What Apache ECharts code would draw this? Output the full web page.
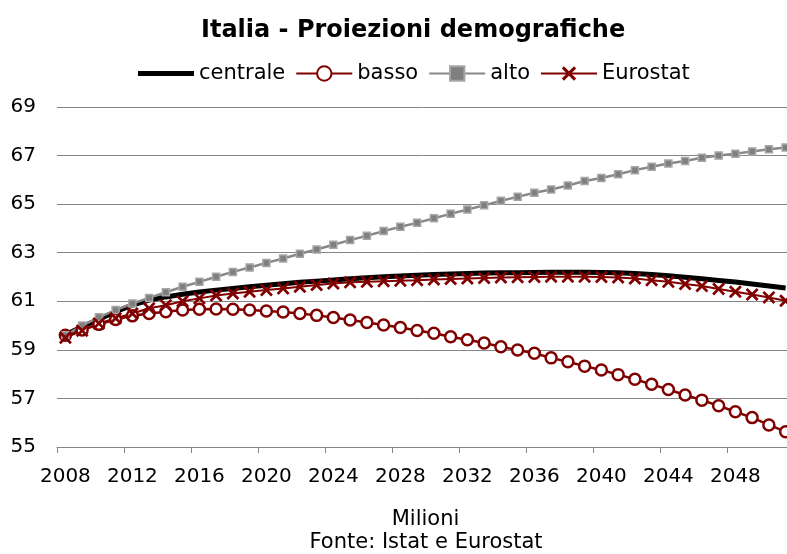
<!DOCTYPE html>
<html>
	<head>
		<meta charset="UTF-8">
		<title>Italia - Proiezioni demografiche</title>
		<style>
			body{margin:0;background:#fff;}
		</style>
	</head>
	<body>
		<div id='chart' style="width:787px;height:554px;"></div>
	</body>
	<script type="text/javascript" src="https://cdn.jsdelivr.net/npm/echarts@6.0.0/dist/echarts.min.js"></script>
	<script>
		// anni 2008-2051
		var anni=['2008','2009','2010','2011','2012','2013','2014','2015','2016','2017','2018','2019','2020','2021',
			'2022','2023','2024','2025','2026','2027','2028','2029','2030','2031','2032','2033','2034','2035',
			'2036','2037','2038','2039','2040','2041','2042','2043','2044','2045','2046','2047','2048','2049','2050','2051'];

		var centrale=[59.62,59.95,60.26,60.57,60.84,61.05,61.18,61.29,61.38,61.46,61.53,61.60,61.66,61.72,
			61.78,61.83,61.88,61.93,61.97,62.01,62.04,62.07,62.10,62.12,62.14,62.16,62.17,62.18,
			62.19,62.20,62.20,62.20,62.19,62.17,62.14,62.10,62.05,61.99,61.93,61.86,61.79,61.71,61.63,61.55];

		var basso=[59.60,59.82,60.05,60.25,60.40,60.50,60.57,60.64,60.67,60.68,60.67,60.64,60.60,60.56,
			60.50,60.42,60.33,60.23,60.13,60.02,59.92,59.80,59.68,59.54,59.42,59.28,59.13,58.99,
			58.86,58.67,58.51,58.33,58.17,57.98,57.79,57.58,57.37,57.14,56.93,56.70,56.45,56.21,55.91,55.63];

		var alto=[59.60,60.00,60.34,60.64,60.91,61.14,61.37,61.60,61.80,62.01,62.21,62.39,62.58,62.76,
			62.96,63.13,63.33,63.52,63.70,63.89,64.07,64.23,64.42,64.60,64.78,64.95,65.14,65.30,
			65.47,65.60,65.77,65.95,66.08,66.23,66.40,66.54,66.67,66.78,66.91,67.00,67.08,67.17,67.26,67.33];

		var eurostat=[59.50,59.79,60.09,60.30,60.50,60.71,60.84,61.00,61.12,61.24,61.32,61.39,61.46,61.53,
			61.60,61.67,61.73,61.78,61.80,61.83,61.85,61.87,61.90,61.92,61.94,61.96,61.98,61.99,
			62.00,62.01,62.01,62.01,62.00,61.98,61.94,61.87,61.80,61.71,61.63,61.51,61.39,61.28,61.16,61.02];

		var yTicks=[55,57,59,61,63,65,67,69];

		var font='"DejaVu Sans", Verdana, sans-serif';
		var rosso='#800000';
		var croce='path://M0,1.5 L1.5,0 L5,3.5 L8.5,0 L10,1.5 L6.5,5 L10,8.5 L8.5,10 L5,6.5 L1.5,10 L0,8.5 L3.5,5 Z';

		function grafico(id){
			var chart=echarts.init(document.getElementById(id));
			var option={
				animation:false,
				textStyle:{fontFamily:font,color:'#000'},
				title:{
					text:'Italia - Proiezioni demografiche',
					left:196,
					top:14,
					textStyle:{fontFamily:font,fontSize:24,fontWeight:'bold',color:'#000'}
				},
				legend:{
					left:133,
					top:58,
					itemWidth:56,
					itemHeight:18,
					itemGap:10,
					textStyle:{fontFamily:font,fontSize:21,color:'#000'},
					data:[
						{name:'centrale',icon:'path://M0,0 L56,0 L56,5 L0,5 Z',itemStyle:{color:'#000'}},
						'basso','alto','Eurostat'
					]
				},
				grid:{
					left:57,
					width:737,
					top:107,
					bottom:107,
					containLabel:false,
					outerBoundsMode:'none'
				},
				xAxis:{
					type:'category',
					data:anni,
					boundaryGap:true,
					name:'Milioni',
					nameLocation:'middle',
					nameGap:62,
					nameTextStyle:{fontFamily:font,fontSize:21,color:'#000'},
					axisLine:{show:true,lineStyle:{color:'#868686',width:1}},
					axisTick:{show:true,interval:3,length:6,lineStyle:{color:'#868686'}},
					axisLabel:{interval:3,margin:20,fontFamily:font,fontSize:20,color:'#000'},
					splitLine:{show:false}
				},
				yAxis:{
					type:'value',
					min:yTicks[0],
					max:yTicks[yTicks.length-1],
					interval:2,
					axisLine:{show:false},
					axisTick:{show:false},
					axisLabel:{margin:21,fontFamily:font,fontSize:20,color:'#000'},
					splitLine:{lineStyle:{color:'#868686',width:1}}
				},
				graphic:[
					{
						type:'text',
						x:426,
						y:543,
						style:{
							text:'Fonte: Istat e Eurostat',
							font:'21px '+font,
							fill:'#000',
							textAlign:'center',
							textVerticalAlign:'middle'
						}
					}
				],
				series:[
					{
						name:'centrale',
						type:'line',
						data:centrale,
						symbol:'none',
						lineStyle:{color:'#000',width:5},
						itemStyle:{color:'#000'}
					},
					{
						name:'basso',
						type:'line',
						data:basso,
						symbol:'circle',
						symbolSize:11,
						showAllSymbol:true,
						lineStyle:{color:rosso,width:2.5},
						itemStyle:{color:'#fff',borderColor:rosso,borderWidth:2.5}
					},
					{
						name:'alto',
						type:'line',
						data:alto,
						symbol:'rect',
						symbolSize:7,
						showAllSymbol:true,
						lineStyle:{color:'#888',width:2.5},
						itemStyle:{color:'#7f7f7f',borderColor:'#a6a6a6',borderWidth:1.5}
					},
					{
						name:'Eurostat',
						type:'line',
						data:eurostat,
						symbol:croce,
						symbolSize:13,
						showAllSymbol:true,
						lineStyle:{color:rosso,width:2},
						itemStyle:{color:rosso}
					}
				]
			};
			chart.setOption(option);
		}

		grafico('chart');
	</script>
</html>
